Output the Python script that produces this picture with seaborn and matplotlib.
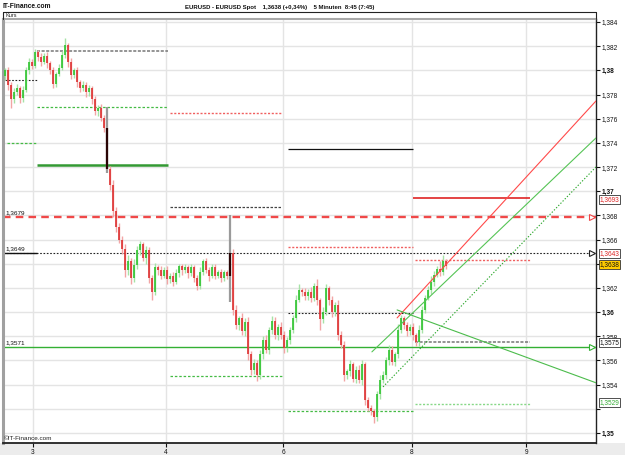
import numpy as np
import pandas as pd
import matplotlib
matplotlib.use("Agg")
import matplotlib.pyplot as plt
import seaborn as sns
from matplotlib.lines import Line2D
from matplotlib.patches import Rectangle

# ---------------- data ----------------
first_open = 1.3795
closes = [
    1.3800, 1.3788, 1.3776, 1.3782, 1.3785, 1.3777, 1.3784, 1.3800, 1.3807, 1.3804,
    1.3815, 1.3811, 1.3807, 1.3812, 1.3806, 1.3800, 1.3789, 1.3797, 1.3802, 1.3813,
    1.3821, 1.3807, 1.3796, 1.3800, 1.3790, 1.3785, 1.3788, 1.3782, 1.3785, 1.3776,
    1.3766, 1.3769, 1.3761, 1.3752, 1.3718, 1.3705, 1.3684, 1.3670, 1.3660, 1.3652,
    1.3635, 1.3642, 1.3628, 1.3639, 1.3651, 1.3656, 1.3645, 1.3651, 1.3628, 1.3617,
    1.3637, 1.3635, 1.3630, 1.3635, 1.3627, 1.3630, 1.3625, 1.3632, 1.3638, 1.3635,
    1.3637, 1.3632, 1.3637, 1.3628, 1.3622, 1.3633, 1.3642, 1.3635, 1.3630, 1.3637,
    1.3630, 1.3633, 1.3628, 1.3633, 1.3630, 1.3649, 1.3602, 1.3589, 1.3595, 1.3584,
    1.3592, 1.3565, 1.3552, 1.3558, 1.3548, 1.3565, 1.3577, 1.3569, 1.3585, 1.3593,
    1.3581, 1.3588, 1.3581, 1.3570, 1.3577, 1.3585, 1.3595, 1.3610, 1.3618, 1.3617,
    1.3613, 1.3617, 1.3612, 1.3622, 1.3610, 1.3594, 1.3600, 1.3620, 1.3610, 1.3600,
    1.3606, 1.3581, 1.3573, 1.3548, 1.3551, 1.3557, 1.3545, 1.3552, 1.3544, 1.3557,
    1.3527, 1.3521, 1.3518, 1.3513, 1.3532, 1.3544, 1.3548, 1.3560, 1.3569, 1.3559,
    1.3565, 1.3585, 1.3595, 1.3589, 1.3584, 1.3588, 1.3581, 1.3575, 1.3585, 1.3602,
    1.3612, 1.3618, 1.3625, 1.3631, 1.3636, 1.3633, 1.3642, 1.3638,
]
# shadow lengths above / below the body, in pips
wick_up = [
    2, 3, 2, 3, 4, 2, 3, 3, 3, 2,
    3, 2, 3, 2, 3, 2, 3, 2, 3, 3,
    6, 2, 3, 2, 3, 2, 3, 2, 3, 2,
    3, 2, 3, 2, 18, 3, 4, 3, 4, 3,
    4, 5, 3, 5, 4, 3, 2, 4, 3, 3,
    4, 2, 3, 2, 3, 2, 3, 4, 2, 2,
    3, 2, 3, 2, 3, 4, 2, 3, 2, 3,
    3, 2, 3, 2, 2, 31, 3, 4, 2, 4,
    3, 4, 3, 3, 2, 4, 3, 4, 3, 4,
    3, 2, 4, 3, 2, 3, 3, 4, 5, 2,
    3, 2, 4, 2, 5, 2, 4, 3, 2, 3,
    2, 4, 3, 3, 2, 3, 2, 3, 4, 3,
    2, 3, 2, 2, 3, 4, 3, 3, 4, 3,
    2, 5, 3, 2, 3, 2, 3, 2, 4, 3,
    2, 4, 5, 3, 2, 6, 5, 2,
]
wick_dn = [
    3, 4, 7, 3, 2, 4, 3, 2, 3, 3,
    2, 3, 3, 2, 4, 3, 4, 3, 2, 2,
    3, 4, 3, 2, 4, 3, 2, 4, 3, 4,
    3, 4, 3, 3, 3, 4, 5, 4, 3, 4,
    6, 4, 5, 3, 3, 4, 3, 5, 4, 7,
    3, 4, 3, 2, 4, 3, 3, 2, 3, 4,
    3, 4, 2, 3, 4, 3, 2, 3, 4, 2,
    3, 2, 3, 2, 3, 22, 4, 3, 4, 3,
    4, 5, 4, 3, 5, 3, 4, 3, 4, 3,
    3, 4, 3, 4, 3, 3, 2, 3, 2, 4,
    3, 3, 4, 3, 4, 9, 3, 2, 4, 4,
    3, 4, 3, 5, 3, 4, 3, 4, 3, 4,
    4, 3, 3, 5, 3, 4, 3, 3, 4, 3,
    4, 3, 2, 3, 4, 3, 4, 3, 3, 2,
    3, 2, 3, 3, 2, 3, 2, 2,
]
gap_bars = [34, 75]  # dark bodies with grey shadows

x_tick_labels = ["3", "4", "6", "8", "9"]

# horizontal levels: price, start bar, end bar
level_prices = [1.3792, 1.3816, 1.3740, 1.3770, 1.3722, 1.3765, 1.3687,
                1.3599, 1.3547, 1.3518, 1.3654, 1.3643, 1.3575, 1.3524,
                1.3735, 1.3694]
level_start = [0, 10.7, 0.7, 10.7, 10.7, 55, 55,
               94.3, 55, 94.3, 94.3, 136.7, 136.7, 136.7,
               94.3, 136]
level_end = [10.7, 54.3, 10.7, 54.3, 54.3, 92.3, 92.3,
             136, 92.7, 136, 136, 175, 175, 175,
             136, 175]
level_kind = ["kdot", "gdash", "grdash", "grdash", "grsolid", "rdot", "kdash",
              "kdot", "grdash", "grdash", "rdot", "rdot", "gdash", "lgdot",
              "ksolid", "rsolid"]

# full width levels
full_prices = [1.3679, 1.3649, 1.3571]
full_labels = ["1,3679", "1,3649", "1,3571"]

# trend lines (bar, price)
trend_name = ["red", "red", "green", "green", "gdot", "gdot", "down", "down"]
trend_bar = [130.7, 197, 122.3, 197, 126, 197, 130.7, 197]
trend_price = [1.35952, 1.37747, 1.35671, 1.37441, 1.35381, 1.37201, 1.36018, 1.35415]

# boxes on price axis
box_prices = [1.36928, 1.36482, 1.36395, 1.35745, 1.35249]
box_texts = ["1,3693", "1,3643", "1,3638", "1,3575", "1,3529"]
hidden_ticks = [1.364, 1.352]  # covered by the price boxes

# ---------------- figure ----------------
sns.set_style("white")
plt.rcParams["font.family"] = ["Liberation Sans", "DejaVu Sans"]

W, H = 625, 455
fig = plt.figure(figsize=(6.25, 4.55), dpi=100)
fig.patch.set_facecolor("white")
fig.patches.append(Rectangle((0, 0), 1, 12 / H, transform=fig.transFigure,
                             facecolor="#ececec", edgecolor="none", zorder=-5))

L, R, T, B = 3, 596, 19, 443
ax = fig.add_axes([L / W, 1 - B / H, (R - L) / W, (B - T) / H])
ax.set_facecolor("white")
ax.set_xlim(-0.667, 197)
ax.set_ylim(1.34917, 1.38425)

# grid
yt = np.round(np.arange(1.350, 1.3841, 0.002), 3)
xt = [9.33, 53.67, 92.67, 135.67, 173.67]
for v in yt:
    ax.axhline(v, color="#e4e4e4", lw=1.0, zorder=0)
for v in xt:
    ax.axvline(v, color="#e4e4e4", lw=1.0, zorder=0)

# candles
n = len(closes)
opens = [first_open] + closes[:-1]
df = pd.DataFrame({"bar": np.arange(n), "open": opens, "close": closes,
                   "wu": wick_up, "wd": wick_dn})
df["top"] = df[["open", "close"]].max(axis=1)
df["bot"] = df[["open", "close"]].min(axis=1)
df["high"] = df["top"] + df["wu"] * 1e-4
df["low"] = df["bot"] - df["wd"] * 1e-4
up = df["close"] >= df["open"]
gap = df["bar"].isin(gap_bars)

for mask, wc, bc in [(up & ~gap, "#a6e3a6", "#2fc42f"),
                     (~up & ~gap, "#f2a5a5", "#dd3030")]:
    d = df[mask]
    ax.vlines(d["bar"], d["low"], d["high"], color=wc, lw=1.0, zorder=3)
    ax.vlines(d["bar"], d["bot"], d["top"], color=bc, lw=1.2, zorder=3)
d = df[gap]
ax.vlines(d["bar"], d["low"], d["high"], color="#9a9a9a", lw=1.6, zorder=3)
ax.vlines(d["bar"], d["bot"], d["top"], color="#2a0505", lw=1.6, zorder=3)

# level lines
styles = {
    "kdot": dict(color="#222222", lw=0.8, ls=(0, (1.5, 1.5))),
    "gdash": dict(color="#777777", lw=1.1, ls=(0, (2, 1))),
    "grdash": dict(color="#44bb44", lw=0.9, ls=(0, (2, 1.5))),
    "grsolid": dict(color="#339933", lw=1.8, ls="-"),
    "rdot": dict(color="#f06060", lw=1.0, ls=(0, (1.5, 1.2))),
    "kdash": dict(color="#444444", lw=0.9, ls=(0, (2, 1.2))),
    "lgdot": dict(color="#88d888", lw=1.0, ls=(0, (1.5, 1.2))),
    "ksolid": dict(color="#111111", lw=0.9, ls="-"),
    "rsolid": dict(color="#dd1111", lw=1.1, ls="-"),
}
for p, s, e, k in zip(level_prices, level_start, level_end, level_kind):
    st = styles[k]
    ax.hlines(p, s, e, colors=st["color"], linewidth=st["lw"], linestyles=[st["ls"]], zorder=2)

# full width levels
ax.axhline(full_prices[0], color="#f04848", lw=1.7, ls=(0, (3.2, 2.2)), zorder=2)
ax.axhline(full_prices[1], color="#222222", lw=0.8, ls=(0, (1.5, 1.5)), zorder=2)
ax.hlines(full_prices[1], -0.667, 10.7, colors="#111111", linewidth=1.0, zorder=2)
ax.axhline(full_prices[2], color="#33b033", lw=1.0, zorder=2)
for p, t in zip(full_prices, full_labels):
    ax.text(0.004, p + 0.00012, t, transform=ax.get_yaxis_transform(),
            fontsize=4.6, va="bottom", ha="left", color="#111111", zorder=6)
for p, c in zip(full_prices, ["#f04848", "#222222", "#33b033"]):
    ax.plot(195.5, p, marker=">", ms=4.5, mfc="white", mec=c, mew=0.8,
            clip_on=False, zorder=6)

# trend lines via seaborn
tdf = pd.DataFrame({"line": trend_name, "bar": trend_bar, "price": trend_price})
sns.lineplot(data=tdf, x="bar", y="price", hue="line", style="line",
             palette={"red": "#ff4a4a", "green": "#55c455", "gdot": "#2ea82e", "down": "#4cbc4c"},
             dashes={"red": "", "green": "", "gdot": (1.2, 1.6), "down": ""},
             estimator=None, sort=False, legend=False, lw=0.8, ax=ax, zorder=4)

# axes styling
ax.set_xlabel("")
ax.set_ylabel("")
ax.yaxis.tick_right()
ax.set_yticks(yt)
ylabels = []
for v in yt:
    s = f"{v:.3f}".rstrip("0").replace(".", ",")
    if any(abs(v - h) < 1e-6 for h in hidden_ticks):
        s = ""
    ylabels.append(s)
ax.set_yticklabels(ylabels)
for lab, v in zip(ax.get_yticklabels(), yt):
    if abs(v * 100 - round(v * 100)) < 1e-6:
        lab.set_fontweight("bold")
        lab.set_fontsize(5.4)
ax.set_xticks(xt)
ax.set_xticklabels(x_tick_labels)
ax.tick_params(axis="y", which="both", right=True, left=False, direction="out",
               length=3, width=0.8, labelsize=4.7, pad=1.2, colors="#111111")
ax.tick_params(axis="x", direction="out", length=3, width=0.8, labelsize=4.7,
               pad=1.5, colors="#111111", bottom=True)
ax.grid(False)
for side, c, w in [("left", "#a0a0a0", 2.2), ("bottom", "#222222", 1.3),
                   ("right", "#222222", 1.0), ("top", "#a8a8a8", 1.5)]:
    ax.spines[side].set_visible(True)
    ax.spines[side].set_color(c)
    ax.spines[side].set_linewidth(w)

# price boxes
box_style = [("#dd2222", "white"), ("#dd2222", "white"), ("#111111", "#ffcc00"),
             ("#111111", "white"), ("#33aa33", "white")]
for p, t, (tc, fc) in zip(box_prices, box_texts, box_style):
    ax.text(1.006, p, t, transform=ax.get_yaxis_transform(), fontsize=4.7,
            color=tc, va="center", ha="left", zorder=10, clip_on=False,
            bbox=dict(boxstyle="square,pad=0.15", fc=fc, ec="#333333", lw=0.6))

# header
fig.add_artist(Line2D([L / W, R / W], [1 - 12 / H, 1 - 12 / H], color="#222222", lw=0.8))
fig.add_artist(Line2D([L / W, L / W], [1 - 12 / H, 1 - 19 / H], color="#222222", lw=0.8))
fig.add_artist(Line2D([R / W, R / W], [1 - 12 / H, 1 - 19 / H], color="#222222", lw=0.8))
fig.text(5 / W, 1 - 15.5 / H, "Kurs", fontsize=4.0, va="center", ha="left", color="#222222")
fig.text(3 / W, 1 - 7 / H, "IT-Finance.com", fontsize=4.8, fontweight="bold",
         va="center", ha="left", color="#111111")
fig.text(280 / W, 1 - 7 / H,
         "EURUSD - EURUSD Spot    1,3638 (+0,34%)    5 Minuten  8:45 (7:45)",
         fontsize=4.3, fontweight="bold",
         va="center", ha="center", color="#111111")
fig.text(4 / W, 1 - 438 / H, "\u00a9IT-Finance.com", fontsize=4.6, va="center",
         ha="left", color="#222222")

fig.savefig("out.png", dpi=100, facecolor=fig.get_facecolor())
